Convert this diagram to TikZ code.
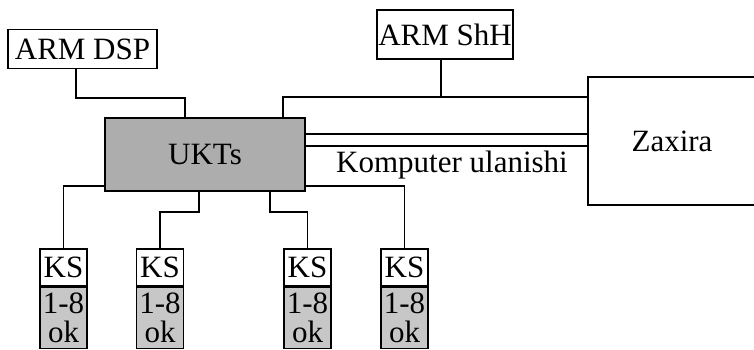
\documentclass[tikz,border=0pt]{standalone}
\usepackage{fontspec}
\setmainfont{Liberation Serif}
\usetikzlibrary{positioning}

\begin{document}
\begin{tikzpicture}[x=1pt,y=-1pt,line width=1.6pt,
    every node/.style={font=\fontsize{31}{29}\selectfont},
    box/.style={draw,inner sep=0pt,align=center},
    ksbox/.style={box,minimum width=47pt,minimum height=37pt},
    okbox/.style={box,fill=black!22,minimum width=47pt,minimum height=61pt}]
  \useasboundingbox (0,0) rectangle (754,350);
  % workstations and storage
  \node[box,minimum width=149pt,minimum height=39pt] (dsp) at (82.5,49) {ARM DSP};
  \node[box,minimum width=136pt,minimum height=49pt] (shh) at (445,34.5) {ARM ShH};
  \node[box,fill=black!32,minimum width=200pt,minimum height=73pt] (ukts) at (205,154.5) {UKTs};
  \node[box,minimum width=168pt,minimum height=128pt] (zax) at (672,141) {Zaxira};
  \node (link) at (452,165) {Komputer ulanishi};
  % line controllers
  \node[ksbox] (ks1) at (63.5,267.5) {KS};
  \node[okbox,below=0pt of ks1] (ok1) {1-8\\ok};
  \node[ksbox] (ks2) at (160,267.5) {KS};
  \node[okbox,below=0pt of ks2] (ok2) {1-8\\ok};
  \node[ksbox] (ks3) at (307.5,267.5) {KS};
  \node[okbox,below=0pt of ks3] (ok3) {1-8\\ok};
  \node[ksbox] (ks4) at (404.5,267.5) {KS};
  \node[okbox,below=0pt of ks4] (ok4) {1-8\\ok};
  % connections
  \draw ([xshift=-6.5pt]dsp.south) -- ++(0,29) -| ([xshift=-20pt]ukts.north);
  \draw ([xshift=78pt]ukts.north) |- ([yshift=44pt]zax.west);
  \draw ([xshift=-4pt]shh.south) -- ++(0,38);
  \draw ([yshift=20.5pt]ukts.east) -- ([yshift=20.5pt]ukts.east -| zax.west);
  \draw ([yshift=8.5pt]ukts.east) -- ([yshift=8.5pt]ukts.east -| zax.west);
  \draw ([yshift=6pt]ukts.south west) -| (ks1.north);
  \draw ([xshift=-6pt]ukts.south) -- ++(0,20) -| (ks2.north);
  \draw ([xshift=65pt]ukts.south) -- ++(0,20) -| (ks3.north);
  \draw ([yshift=6pt]ukts.south east) -| (ks4.north);
\end{tikzpicture}
\end{document}
